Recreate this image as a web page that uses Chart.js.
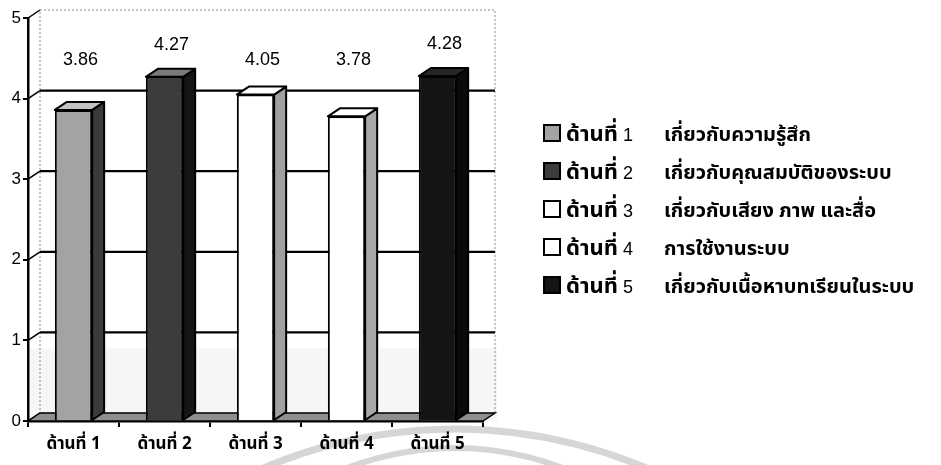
<!DOCTYPE html>
<html>
<head>
<meta charset="utf-8">
<script src="https://cdn.jsdelivr.net/npm/chart.js@4"></script>
<style>
  body { margin: 0; background: #fff; }
  #wrap { width: 941px; height: 465px; position: relative; }
</style>
</head>
<body>
<div id="wrap"><canvas id="meanChart"></canvas></div>
<script>
const categories = ['ด้านที่ 1', 'ด้านที่ 2', 'ด้านที่ 3', 'ด้านที่ 4', 'ด้านที่ 5'];
const meanScores = [3.86, 4.27, 4.05, 3.78, 4.28];
const legendTopics = [
    'เกี่ยวกับความรู้สึก',
    'เกี่ยวกับคุณสมบัติของระบบ',
    'เกี่ยวกับเสียง ภาพ และสื่อ',
    'การใช้งานระบบ',
    'เกี่ยวกับเนื้อหาบทเรียนในระบบ'
];
const yTicks = [0, 1, 2, 3, 4, 5];

const frontColors = ['#a3a3a3', '#3c3c3c', '#ffffff', '#ffffff', '#141414'];
const sideColors  = ['#3a3a3a', '#151515', '#a0a0a0', '#a8a8a8', '#0a0a0a'];
const topColors   = ['#c4c4c4', '#7a7a7a', '#ffffff', '#ffffff', '#262626'];

const thaiFont = "'Noto Sans Thai', Loma, Tahoma, 'DejaVu Sans', sans-serif";
const numFont = "'Liberation Sans', Arial, sans-serif";
const dx = 12, dy = -8;

// faint watermark rings of the scanned page
const watermark = {
    id: 'watermark',
    beforeDraw(chart) {
        const ctx = chart.ctx;
        ctx.save();
        ctx.strokeStyle = 'rgba(0,0,0,0.16)';
        ctx.lineWidth = 7;
        ctx.beginPath();
        ctx.arc(455, 917, 488, Math.PI * 1.2, Math.PI * 1.8);
        ctx.stroke();
        ctx.lineWidth = 6;
        ctx.beginPath();
        ctx.arc(455, 748, 300, Math.PI * 1.2, Math.PI * 1.8);
        ctx.stroke();
        ctx.restore();
    }
};

const box3d = {
    id: 'box3d',
    beforeDatasetsDraw(chart) {
        const { ctx, chartArea: a, scales: { y } } = chart;
        ctx.save();
        ctx.fillStyle = 'rgba(0,0,0,0.035)';
        ctx.fillRect(a.left + 2, y.getPixelForValue(0.9), a.right - a.left + dx, y.getPixelForValue(0) - y.getPixelForValue(0.9));
        // back wall outline
        ctx.strokeStyle = '#888';
        ctx.lineWidth = 1;
        ctx.setLineDash([2, 2]);
        ctx.strokeRect(a.left + dx, a.top + dy, a.right - a.left, a.bottom - a.top);
        ctx.setLineDash([]);
        // grid on the back wall
        ctx.strokeStyle = '#000';
        yTicks.forEach(v => {
            const py = y.getPixelForValue(v);
            ctx.lineWidth = 1.5;
            ctx.beginPath();
            ctx.moveTo(a.left, py);
            ctx.lineTo(a.left + dx, py + dy);
            ctx.stroke();
            if (v > 0 && v < 5) {
                ctx.lineWidth = 2.2;
                ctx.beginPath();
                ctx.moveTo(a.left + dx, py + dy);
                ctx.lineTo(a.right + dx, py + dy);
                ctx.stroke();
            }
        });
        // floor
        ctx.fillStyle = '#8f8f8f';
        ctx.strokeStyle = '#000';
        ctx.lineWidth = 1.5;
        ctx.beginPath();
        ctx.moveTo(a.left, a.bottom);
        ctx.lineTo(a.right, a.bottom);
        ctx.lineTo(a.right + dx, a.bottom + dy);
        ctx.lineTo(a.left + dx, a.bottom + dy);
        ctx.closePath();
        ctx.fill();
        ctx.stroke();
        ctx.restore();
    },
    afterDatasetsDraw(chart) {
        const { ctx } = chart;
        const meta = chart.getDatasetMeta(0);
        ctx.save();
        ctx.strokeStyle = '#000';
        ctx.lineWidth = 2;
        ctx.lineJoin = 'round';
        meta.data.forEach((bar, i) => {
            const p = bar.getProps(['x', 'y', 'width', 'base'], true);
            const l = p.x - p.width / 2, r = p.x + p.width / 2;
            ctx.fillStyle = sideColors[i];
            ctx.beginPath();
            ctx.moveTo(r, p.y);
            ctx.lineTo(r + dx, p.y + dy);
            ctx.lineTo(r + dx, p.base + dy);
            ctx.lineTo(r, p.base);
            ctx.closePath();
            ctx.fill();
            ctx.stroke();
            ctx.fillStyle = topColors[i];
            ctx.beginPath();
            ctx.moveTo(l, p.y);
            ctx.lineTo(l + dx, p.y + dy);
            ctx.lineTo(r + dx, p.y + dy);
            ctx.lineTo(r, p.y);
            ctx.closePath();
            ctx.fill();
            ctx.stroke();
        });
        ctx.restore();
    },
    afterDraw(chart) {
        const { ctx, scales: { y } } = chart;
        const meta = chart.getDatasetMeta(0);
        ctx.save();
        // value labels
        ctx.fillStyle = '#000';
        ctx.font = '18px ' + numFont;
        ctx.textAlign = 'center';
        ctx.textBaseline = 'middle';
        meta.data.forEach((bar, i) => {
            const v = meanScores[i];
            ctx.fillText(v.toFixed(2), bar.x + 7, y.getPixelForValue(Math.max(v + 0.4, 4.48)));
        });
        // legend
        ctx.textAlign = 'left';
        ctx.textBaseline = 'alphabetic';
        legendTopics.forEach((t, i) => {
            const cy = 133 + i * 38;
            ctx.fillStyle = frontColors[i];
            ctx.fillRect(544, cy - 8, 16, 16);
            ctx.strokeStyle = '#000';
            ctx.lineWidth = 2;
            ctx.strokeRect(544, cy - 8, 16, 16);
            ctx.fillStyle = '#000';
            ctx.font = 'bold 22px ' + thaiFont;
            ctx.fillText('ด้านที่', 566, cy + 8);
            const w = ctx.measureText('ด้านที่').width;
            ctx.font = '18px ' + numFont;
            ctx.fillText(String(i + 1), 566 + w + 5, cy + 8);
            ctx.font = 'bold 20px ' + thaiFont;
            ctx.fillText(t, 664, cy + 8);
        });
        ctx.restore();
    }
};

new Chart(document.getElementById('meanChart'), {
    type: 'bar',
    data: {
        labels: categories,
        datasets: [{
            data: meanScores,
            backgroundColor: frontColors,
            borderColor: '#000',
            borderWidth: 2,
            barPercentage: 0.82,
            categoryPercentage: 0.5
        }]
    },
    options: {
        responsive: true,
        maintainAspectRatio: false,
        animation: false,
        layout: { padding: { top: 18, right: 458, left: 0, bottom: 0 } },
        plugins: { legend: { display: false }, tooltip: { enabled: false } },
        scales: {
            x: {
                grid: { display: true, drawOnChartArea: false, drawTicks: true, tickLength: 6, color: '#000', lineWidth: 2, offset: true },
                border: { display: true, color: '#000', width: 2.5 },
                ticks: { color: '#000', font: { family: thaiFont, size: 17, weight: 'bold' }, padding: 8 },
                afterFit: s => { s.height = 44; }
            },
            y: {
                min: 0,
                max: 5,
                grid: { display: true, drawOnChartArea: false, drawTicks: true, tickLength: 5, color: '#000', lineWidth: 2 },
                border: { display: true, color: '#000', width: 2.5 },
                ticks: { stepSize: 1, color: '#000', font: { family: numFont, size: 17 }, padding: 2 },
                afterFit: s => { s.width = 28; }
            }
        }
    },
    plugins: [watermark, box3d]
});
</script>
</body>
</html>
